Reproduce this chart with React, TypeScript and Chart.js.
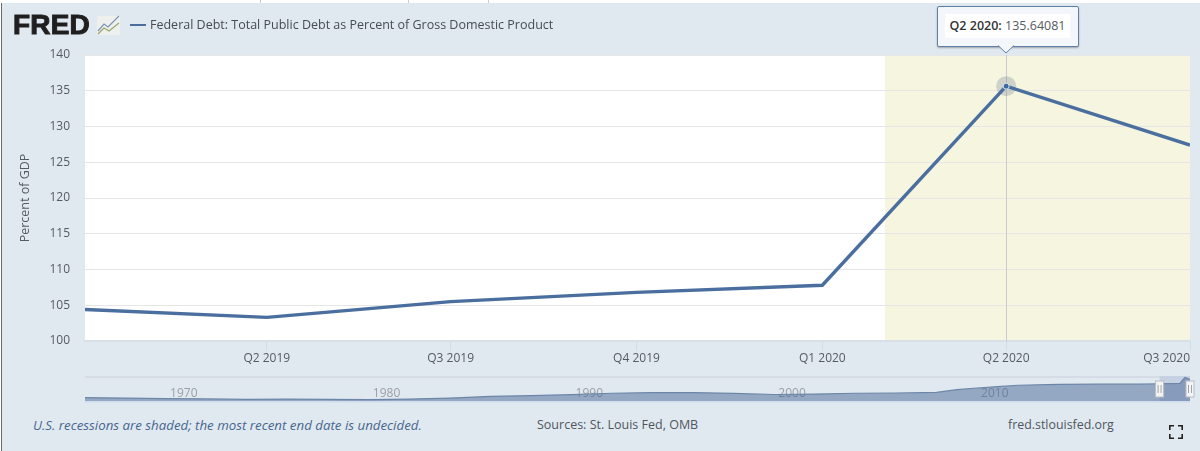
// FRED debt-to-GDP chart: main line chart plus the small navigator strip
import { useEffect, useRef } from 'react';
import { Chart, registerables } from 'chart.js';
import type { Plugin } from 'chart.js';

Chart.register(...registerables);

// ---- Main chart data (x = days since Q1 2019) ----
const quarterDays = [0, 90, 181, 273, 365, 456, 547];
const quarterLabels = ['', 'Q2 2019', 'Q3 2019', 'Q4 2019', 'Q1 2020', 'Q2 2020', 'Q3 2020'];
const debtPct = [104.4, 103.3, 105.5, 106.8, 107.8, 135.64081, 127.4];
const yTicks = [100, 105, 110, 115, 120, 125, 130, 135, 140];
const recessionStartDay = 396;
const hoverIndex = 5;

// ---- Navigator data ----
const navYears = [1966, 1968, 1970, 1972, 1974, 1976, 1978, 1980, 1982, 1984, 1986, 1988, 1990, 1992, 1994, 1996, 1998, 2000, 2002, 2004, 2006, 2008, 2009, 2010, 2011, 2012, 2014, 2016, 2018, 2019, 2020, 2020.25, 2020.5];
const navValues = [40, 38, 35.5, 34, 32, 33, 32, 31, 33, 38, 46, 50, 54, 61, 64, 64, 60, 55, 57, 61, 62, 65, 78, 86, 92, 99, 103, 104, 104, 106, 108, 135.6, 127.4];
const navDecades = [1970, 1980, 1990, 2000, 2010];
const navSelectedFrom = 2019;

const FONT = "'Open Sans', sans-serif";
const BG = '#e1e9f0';
const LINE = '#4a6f9f';

const mainPlugin: Plugin<'line'> = {
  id: 'mainBands',
  beforeDraw(chart) {
    const { ctx, chartArea: a, scales } = chart;
    const x0 = scales.x.getPixelForValue(recessionStartDay);
    ctx.save();
    ctx.fillStyle = '#ffffff';
    ctx.fillRect(a.left, a.top, a.width, a.height);
    ctx.fillStyle = '#f5f5e0';
    ctx.fillRect(x0, a.top, a.right - x0, a.height);
    ctx.restore();
  },
  beforeDatasetsDraw(chart) {
    const { ctx, chartArea: a, scales } = chart;
    const x = scales.x.getPixelForValue(quarterDays[hoverIndex]);
    ctx.save();
    ctx.strokeStyle = '#c8ccd0';
    ctx.lineWidth = 1;
    ctx.beginPath();
    ctx.moveTo(Math.round(x) + 0.5, a.top);
    ctx.lineTo(Math.round(x) + 0.5, a.bottom);
    ctx.stroke();
    ctx.restore();
  },
};

const navPlugin: Plugin<'line'> = {
  id: 'navParts',
  beforeDatasetsDraw(chart) {
    const { ctx, chartArea: a, scales } = chart;
    const sel = scales.x.getPixelForValue(navSelectedFrom);
    ctx.save();
    // top rule + bottom strip
    ctx.fillStyle = '#d5dce5';
    ctx.fillRect(a.left, a.top, a.width, 2);
    ctx.fillStyle = '#cfdcee';
    ctx.fillRect(a.left, a.bottom, a.width, 1.5);
    ctx.fillStyle = '#c6d1e2';
    ctx.fillRect(sel, a.top, a.right - sel, a.height);
    // year labels sit under the area
    ctx.fillStyle = '#9a9fa6';
    ctx.font = `12px ${FONT}`;
    ctx.textAlign = 'left';
    ctx.textBaseline = 'middle';
    navDecades.forEach(y => ctx.fillText(String(y), scales.x.getPixelForValue(y) + 4, a.top + 17.5));
    ctx.restore();
  },
  afterDatasetsDraw(chart) {
    const { ctx, chartArea: a, scales } = chart;
    const handles = [scales.x.getPixelForValue(navSelectedFrom), a.right];
    ctx.save();
    handles.forEach(h => {
      ctx.fillStyle = '#f4f4f4';
      ctx.strokeStyle = '#b9bec6';
      ctx.lineWidth = 1;
      ctx.fillRect(h - 4, a.top + 5, 8, 16);
      ctx.strokeRect(h - 4, a.top + 5, 8, 16);
      ctx.fillStyle = '#a0a4aa';
      ctx.fillRect(h - 2, a.top + 9, 1, 8);
      ctx.fillRect(h + 1, a.top + 9, 1, 8);
    });
    ctx.restore();
  },
};

function MainChart() {
  const canvasRef = useRef<HTMLCanvasElement>(null);
  useEffect(() => {
    if (!canvasRef.current) return;
    const points = quarterDays.map((d, i) => ({ x: d, y: debtPct[i] }));
    const chart = new Chart(canvasRef.current, {
      type: 'line',
      data: {
        datasets: [
          {
            data: points,
            borderColor: LINE,
            borderWidth: 3.4,
            tension: 0,
            pointRadius: ctx => (ctx.dataIndex === hoverIndex ? 3 : 0),
            pointBackgroundColor: '#3f68a0',
            pointBorderColor: '#dfe6ee',
            pointBorderWidth: 1,
          },
          {
            data: [points[hoverIndex]],
            showLine: false,
            pointRadius: 10,
            pointBackgroundColor: 'rgba(120,130,145,0.3)',
            pointBorderWidth: 0,
          },
        ],
      },
      options: {
        animation: false,
        responsive: false,
        layout: { padding: { top: 55, right: 10 } },
        plugins: { legend: { display: false }, tooltip: { enabled: false } },
        scales: {
          x: {
            type: 'linear',
            min: 0,
            max: 547,
            afterBuildTicks: axis => { axis.ticks = quarterDays.map(value => ({ value })); },
            afterFit: axis => { axis.height = 35; },
            grid: {
              drawOnChartArea: false,
              drawTicks: true,
              tickLength: 10,
              color: ctx => (ctx.index === 0 ? 'rgba(0,0,0,0)' : '#d3dbe4'),
            },
            border: { color: '#d8dfe6', width: 2 },
            ticks: {
              autoSkip: false,
              maxRotation: 0,
              align: 'inner',
              padding: 0,
              color: '#555b62',
              font: { family: FONT, size: 12 },
              callback: value => quarterLabels[quarterDays.indexOf(Number(value))] ?? '',
            },
          },
          y: {
            min: 100,
            max: 140,
            afterBuildTicks: axis => { axis.ticks = yTicks.map(value => ({ value })); },
            afterFit: axis => { axis.width = 85; },
            grid: { color: '#e6e6e6', drawTicks: false },
            border: { display: false },
            ticks: { padding: 15, color: '#555b62', font: { family: FONT, size: 12 } },
            title: {
              display: true,
              text: 'Percent of GDP',
              color: '#555b62',
              font: { family: FONT, size: 12.5 },
              padding: { top: 18, bottom: 0 },
            },
          },
        },
      },
      plugins: [mainPlugin],
    });
    return () => chart.destroy();
  }, []);
  return <canvas ref={canvasRef} width={1200} height={376} style={{ position: 'absolute', left: 0, top: 0 }} />;
}

function NavigatorChart() {
  const canvasRef = useRef<HTMLCanvasElement>(null);
  useEffect(() => {
    if (!canvasRef.current) return;
    const chart = new Chart(canvasRef.current, {
      type: 'line',
      data: {
        datasets: [{
          data: navYears.map((y, i) => ({ x: y, y: navValues[i] })),
          borderColor: '#6d86a8',
          borderWidth: 1.2,
          backgroundColor: 'rgba(72,102,150,0.5)',
          fill: 'start',
          tension: 0,
          pointRadius: 0,
        }],
      },
      options: {
        animation: false,
        responsive: false,
        layout: { padding: { left: 85, right: 10, top: 6, bottom: 9 } },
        plugins: { legend: { display: false }, tooltip: { enabled: false } },
        scales: {
          x: { type: 'linear', display: false, min: 1966, max: 2020.5 },
          y: { display: false, min: 24, max: 143 },
        },
      },
      plugins: [navPlugin],
    });
    return () => chart.destroy();
  }, []);
  return <canvas ref={canvasRef} width={1200} height={40} style={{ position: 'absolute', left: 0, top: 370 }} />;
}

const label = (left: number, top: number, text: string, extra = {}) => (
  <div style={{ position: 'absolute', left, top, font: `12.5px ${FONT}`, color: '#4f565e', whiteSpace: 'nowrap', ...extra }}>{text}</div>
);

export default function App() {
  return (
    <div style={{ position: 'absolute', left: 0, top: 0, width: 1200, height: 451, overflow: 'hidden', background: '#fff' }}>
      <style>{'body{margin:0}'}</style>
      {/* page frame */}
      <div style={{ position: 'absolute', left: 2, top: 3, right: 0, bottom: 0, background: BG }} />
      <div style={{ position: 'absolute', left: 1, top: 3, width: 1, bottom: 0, background: '#6a6a6a' }} />
      {[260, 408, 488].map(x => (
        <div key={x} style={{ position: 'absolute', left: x, top: 0, width: 1, height: 3, background: '#cccccc' }} />
      ))}

      <MainChart />
      <NavigatorChart />

      {/* logo + legend */}
      <div style={{ position: 'absolute', left: 13, top: 9, font: `bold 28px 'Liberation Sans', sans-serif`, color: '#1f1f1f', WebkitTextStroke: '1px #1f1f1f', letterSpacing: 0.2 }}>FRED</div>
      <svg width={24} height={22} style={{ position: 'absolute', left: 97, top: 14 }}>
        <rect x={0} y={2} width={23} height={19} fill="#eef0ee" />
        <polyline points="1,17 7,10 11,13 22,2" fill="none" stroke="#7d94b4" strokeWidth={1.2} />
        <polyline points="1,20 7,14 12,17 22,9" fill="none" stroke="#9aa86e" strokeWidth={1.2} />
      </svg>
      <div style={{ position: 'absolute', left: 130, top: 23.5, width: 16, height: 2.5, background: LINE }} />
      {label(150, 16, 'Federal Debt: Total Public Debt as Percent of Gross Domestic Product', { fontSize: 12.5, fontWeight: 500, color: '#454c54' })}

      {/* hover tooltip */}
      <div style={{ position: 'absolute', left: 937, top: 6, width: 140, height: 39, background: '#f3f6fa', border: '1px solid #5f7fa9', borderRadius: 2, boxShadow: '0 1px 2px rgba(0,0,0,0.3)' }}>
        <div style={{ position: 'absolute', left: 7, top: 7, width: 125, height: 24, background: '#fff', font: `12.5px/24px ${FONT}`, color: '#555b62', textAlign: 'center', whiteSpace: 'nowrap' }}>
          <span style={{ color: '#333', fontWeight: 600 }}>Q2 2020:</span> 135.64081
        </div>
      </div>
      <svg width={16} height={9} style={{ position: 'absolute', left: 998, top: 45 }}>
        <polyline points="0,0.5 8,8 16,0.5" fill="#f3f6fa" stroke="#5f7fa9" />
        <rect x={1} y={-1} width={14} height={1.4} fill="#f3f6fa" />
      </svg>

      {/* footer */}
      {label(33, 416, 'U.S. recessions are shaded; the most recent end date is undecided.', { fontSize: 13.3, fontStyle: 'italic', color: '#46678f' })}
      {label(537, 416, 'Sources: St. Louis Fed, OMB')}
      {label(1008, 416, 'fred.stlouisfed.org', { fontSize: 12.4 })}
      <svg width={14} height={14} style={{ position: 'absolute', left: 1169, top: 425 }}>
        <path d="M0.8 5V0.8H5M9 0.8H13.2V5M13.2 9V13.2H9M5 13.2H0.8V9" fill="none" stroke="#222" strokeWidth={1.6} />
      </svg>
    </div>
  );
}
